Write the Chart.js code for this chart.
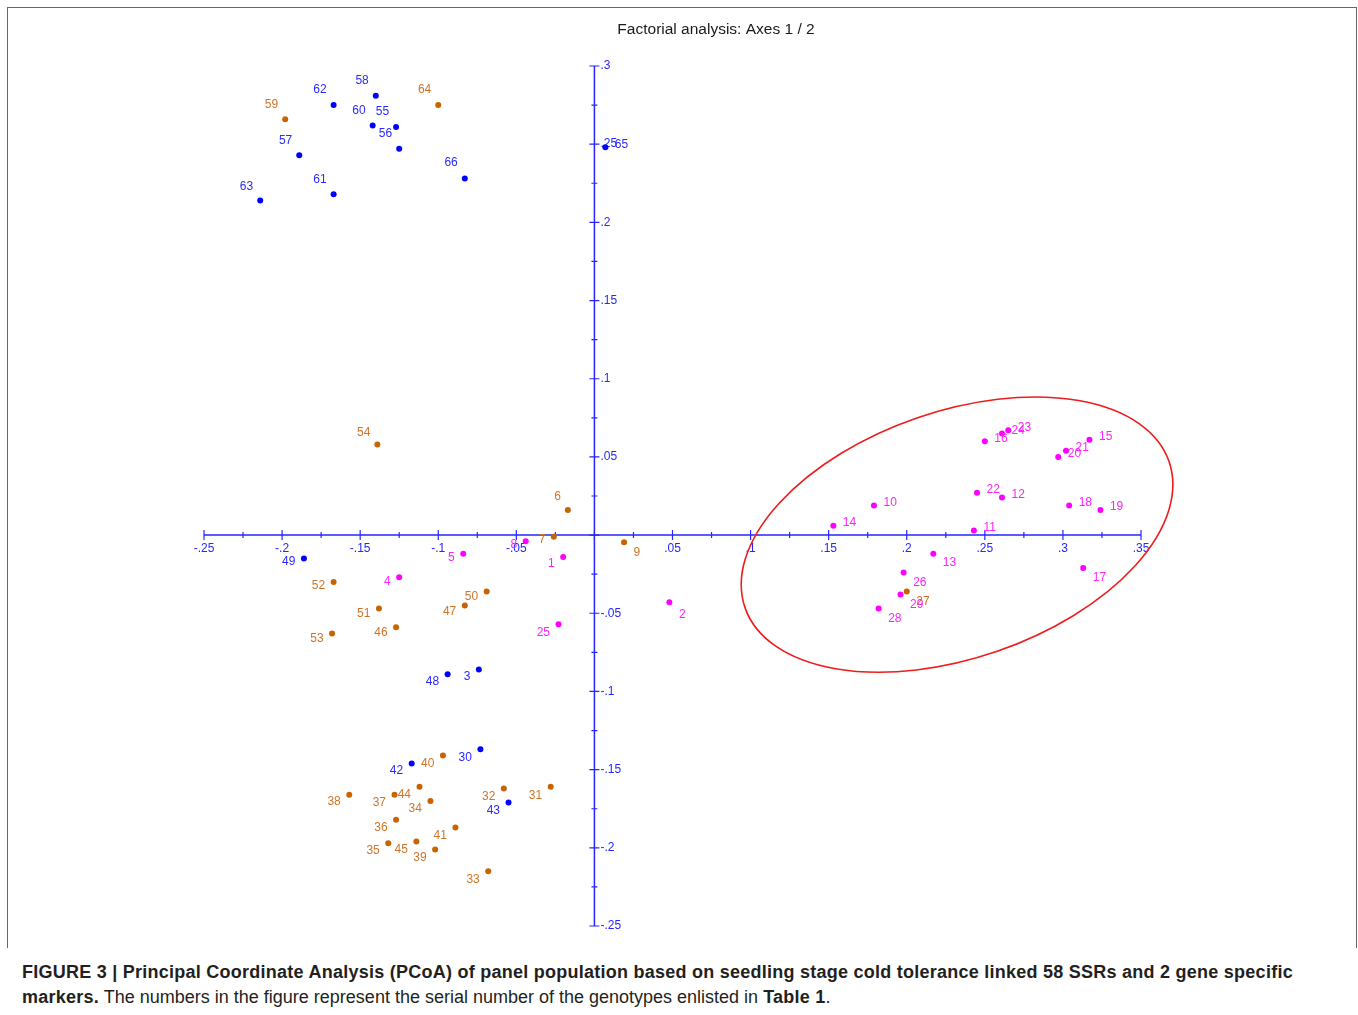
<!DOCTYPE html>
<html>
<head>
<meta charset="utf-8">
<script src="https://cdn.jsdelivr.net/npm/chart.js@4.4.1/dist/chart.umd.min.js"></script>
<style>
    body { margin: 0; background: #fff; font-family: Arial, "Liberation Sans", sans-serif; }
    #frame { position: absolute; left: 7px; top: 7px; width: 1348px; height: 940px; border: 1.5px solid #666; border-bottom: none; }
    #pcoa { position: absolute; left: 0; top: 0; }
    #caption { position: absolute; left: 22px; top: 960px; font-size: 18px; line-height: 25px; color: #231f20; white-space: nowrap; }
    #caption b { letter-spacing: 0.25px; }
</style>
</head>
<body>
<div id="frame"></div>
<canvas id="pcoa" width="1358" height="950"></canvas>
<div id="caption"><b>FIGURE 3 | Principal Coordinate Analysis (PCoA) of panel population based on seedling stage cold tolerance linked 58 SSRs and 2 gene specific<br>markers.</b> The numbers in the figure represent the serial number of the genotypes enlisted in <b>Table 1</b>.</div>
<script>
// genotype ids and coordinates (axis 1 / axis 2), grouped by colour
const blueIds = [58, 62, 60, 55, 56, 57, 61, 63, 66, 65, 49, 48, 3, 30, 42, 43]
const blueX = [-0.140, -0.167, -0.142, -0.127, -0.125, -0.189, -0.167, -0.214, -0.083, 0.007, -0.186, -0.094, -0.074, -0.073, -0.117, -0.055]
const blueY = [0.281, 0.275, 0.262, 0.261, 0.247, 0.243, 0.218, 0.214, 0.228, 0.248, -0.015, -0.089, -0.086, -0.137, -0.146, -0.171]

const orangeIds = [59, 64, 54, 6, 7, 9, 52, 50, 47, 51, 46, 53, 40, 44, 37, 38, 34, 32, 31, 36, 41, 35, 45, 39, 33, 27]
const orangeX = [-0.198, -0.100, -0.139, -0.017, -0.026, 0.019, -0.167, -0.069, -0.083, -0.138, -0.127, -0.168, -0.097, -0.112, -0.128, -0.157, -0.105, -0.058, -0.028, -0.127, -0.089, -0.132, -0.114, -0.102, -0.068, 0.200]
const orangeY = [0.266, 0.275, 0.058, 0.016, -0.001, -0.0045, -0.030, -0.036, -0.045, -0.047, -0.059, -0.063, -0.141, -0.161, -0.166, -0.166, -0.170, -0.162, -0.161, -0.182, -0.187, -0.197, -0.196, -0.201, -0.215, -0.036]

const pinkIds = [1, 2, 4, 5, 8, 25, 10, 14, 22, 12, 18, 19, 11, 15, 13, 17, 26, 28, 29, 16, 24, 23, 21, 20]
const pinkX = [-0.020, 0.048, -0.125, -0.084, -0.044, -0.023, 0.179, 0.153, 0.245, 0.261, 0.304, 0.324, 0.243, 0.317, 0.217, 0.313, 0.198, 0.182, 0.196, 0.250, 0.261, 0.265, 0.302, 0.297]
const pinkY = [-0.014, -0.043, -0.027, -0.012, -0.004, -0.057, 0.019, 0.006, 0.027, 0.024, 0.019, 0.016, 0.003, 0.061, -0.012, -0.021, -0.024, -0.047, -0.038, 0.060, 0.065, 0.067, 0.054, 0.050]

// tick labels on the two axes
const xTickLabels = ['-.25', '-.2', '-.15', '-.1', '-.05', '.05', '.1', '.15', '.2', '.25', '.3', '.35']
const yTickLabels = ['.3', '.25', '.2', '.15', '.1', '.05', '-.05', '-.1', '-.15', '-.2', '-.25']

// red ellipse round the cold tolerant group: centre, semi axes, tilt
const ellipseCenter = [0.2322, 0.0003]
const ellipseAxes = [0.1436, 0.0789]
const ellipseTilt = 19

const axisColor = '#2626ff'

function toPoints(xs, ys) {
    return xs.map((x, i) => ({ x: x, y: ys[i] }))
}

//draws the crossing axes through the origin
const crossAxes = {
    id: 'crossAxes',
    beforeDatasetsDraw(chart) {
        const ctx = chart.ctx
        const sx = chart.scales.x, sy = chart.scales.y
        const ox = sx.getPixelForValue(0), oy = sy.getPixelForValue(0)
        ctx.save()
        ctx.strokeStyle = axisColor
        ctx.fillStyle = axisColor
        ctx.lineWidth = 1.5
        ctx.beginPath()
        ctx.moveTo(sx.getPixelForValue(sx.min), oy)
        ctx.lineTo(sx.getPixelForValue(sx.max), oy)
        ctx.moveTo(ox, sy.getPixelForValue(sy.max))
        ctx.lineTo(ox, sy.getPixelForValue(sy.min))
        ctx.stroke()

        //major and minor ticks every .025
        ctx.lineWidth = 1.2
        ctx.beginPath()
        for (let v = sx.min; v <= sx.max + 1e-9; v += 0.025) {
            const p = sx.getPixelForValue(v)
            const major = Math.abs(Math.round(v / 0.05) * 0.05 - v) < 1e-6
            const h = major ? 5 : 3
            ctx.moveTo(p, oy - h)
            ctx.lineTo(p, oy + h)
        }
        for (let v = sy.min; v <= sy.max + 1e-9; v += 0.025) {
            const p = sy.getPixelForValue(v)
            const major = Math.abs(Math.round(v / 0.05) * 0.05 - v) < 1e-6
            const h = major ? 5 : 3
            ctx.moveTo(ox - h, p)
            ctx.lineTo(ox + h, p)
        }
        ctx.stroke()

        ctx.font = '12px Arial, "Liberation Sans"'
        ctx.textAlign = 'center'
        ctx.textBaseline = 'middle'
        xTickLabels.forEach(t => {
            ctx.fillText(t, sx.getPixelForValue(Number(t)), oy + 14)
        })
        ctx.textAlign = 'left'
        yTickLabels.forEach(t => {
            ctx.fillText(t, ox + 6, sy.getPixelForValue(Number(t)))
        })

        //title
        ctx.fillStyle = '#1a1a1a'
        ctx.font = '15.5px Arial, "Liberation Sans"'
        ctx.textAlign = 'center'
        ctx.fillText('Factorial analysis: Axes 1 / 2', 716, 30)
        ctx.restore()
    },
    afterDatasetsDraw(chart) {
        const ctx = chart.ctx
        const sx = chart.scales.x, sy = chart.scales.y
        const cx = sx.getPixelForValue(ellipseCenter[0])
        const cy = sy.getPixelForValue(ellipseCenter[1])
        const rx = sx.getPixelForValue(ellipseCenter[0] + ellipseAxes[0]) - cx
        const ry = cy - sy.getPixelForValue(ellipseCenter[1] + ellipseAxes[1])
        ctx.save()
        ctx.strokeStyle = '#ee1c1c'
        ctx.lineWidth = 1.6
        ctx.beginPath()
        ctx.ellipse(cx, cy, rx, ry, -ellipseTilt * Math.PI / 180, 0, Math.PI * 2)
        ctx.stroke()
        ctx.restore()
    }
}

//writes the genotype number next to each point, pushed away from the origin
const pointLabels = {
    id: 'pointLabels',
    afterDatasetsDraw(chart) {
        const ctx = chart.ctx
        ctx.save()
        ctx.font = '12px Arial, "Liberation Sans"'
        ctx.textBaseline = 'middle'
        chart.data.datasets.forEach((ds, di) => {
            const meta = chart.getDatasetMeta(di)
            ctx.fillStyle = ds.labelColor
            meta.data.forEach((el, i) => {
                const v = ds.data[i]
                const sin = Math.abs(v.y) / Math.hypot(v.x, v.y)
                let tx, ty
                if (v.x >= 0) {
                    ctx.textAlign = 'left'
                    tx = el.x + 9.5
                    ty = v.y >= 0 ? el.y - 3 : el.y + 9 + 5 * sin
                } else {
                    ctx.textAlign = 'right'
                    if (v.y >= 0) {
                        tx = el.x - 7
                        ty = el.y - (9 + 7 * sin)
                    } else {
                        tx = el.x - 8.5
                        ty = el.y + 3 + 6 * sin
                    }
                }
                ctx.fillText(String(ds.ids[i]), tx, ty)
            })
        })
        ctx.restore()
    }
}

new Chart(document.getElementById('pcoa'), {
    type: 'scatter',
    data: {
        datasets: [
            { ids: blueIds, data: toPoints(blueX, blueY), backgroundColor: '#0000ff', labelColor: '#2a2aff' },
            { ids: orangeIds, data: toPoints(orangeX, orangeY), backgroundColor: '#c86400', labelColor: '#d07428' },
            { ids: pinkIds, data: toPoints(pinkX, pinkY), backgroundColor: '#ff00ff', labelColor: '#ff22ff' }
        ]
    },
    options: {
        responsive: false,
        animation: false,
        layout: { padding: { left: 204, top: 66, right: 217, bottom: 24 } },
        elements: { point: { radius: 3, borderWidth: 0 } },
        scales: {
            x: { type: 'linear', min: -0.25, max: 0.35, display: false },
            y: { type: 'linear', min: -0.25, max: 0.3, display: false }
        },
        plugins: { legend: { display: false }, tooltip: { enabled: false } }
    },
    plugins: [crossAxes, pointLabels]
})
</script>
</body>
</html>
